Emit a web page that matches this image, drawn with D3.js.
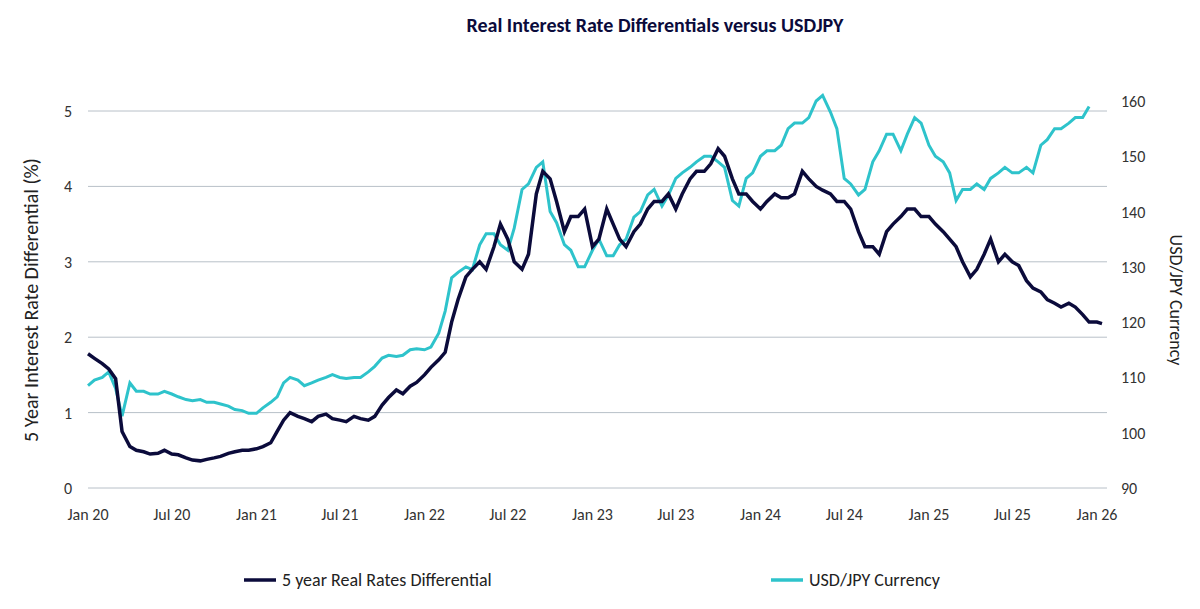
<!DOCTYPE html>
<html><head><meta charset="utf-8">
<script src="https://cdn.jsdelivr.net/npm/d3@7"></script>
<style>body{margin:0;background:#fff;font-family:Calibri,"Open Sans",sans-serif}</style>
</head><body><svg id="c" width="1200" height="609"></svg>
<script>
// semi-monthly readings, "YYYY-MM-DD"
var dates = [];
for (var y = 2020; y <= 2025; y++) for (var m = 1; m <= 12; m++) { dates.push(y + "-" + String(m).padStart(2,"0") + "-01"); dates.push(y + "-" + String(m).padStart(2,"0") + "-15"); }
dates.push("2026-01-01"); dates.push("2026-01-12");

var rateDiff = [
 1.78,1.72, 1.65,1.58, 1.45,0.75, 0.55,0.5, 0.48,0.45, 0.46,0.5, 0.45,0.44, 0.4,0.37, 0.36,0.38, 0.4,0.42, 0.46,0.48, 0.5,0.5,
 0.52,0.55, 0.6,0.75, 0.9,1.0, 0.95,0.92, 0.88,0.95, 0.98,0.92, 0.9,0.88, 0.95,0.92, 0.9,0.95, 1.1,1.2, 1.3,1.25, 1.35,1.4,
 1.5,1.6, 1.7,1.8, 2.2,2.5, 2.8,2.9, 3.0,2.9, 3.2,3.5, 3.3,3.0, 2.9,3.1, 3.9,4.2, 4.1,3.8, 3.4,3.6, 3.6,3.7,
 3.2,3.3, 3.7,3.5, 3.3,3.2, 3.4,3.5, 3.7,3.8, 3.8,3.9, 3.7,3.9, 4.1,4.2, 4.2,4.3, 4.5,4.4, 4.1,3.9, 3.9,3.8,
 3.7,3.8, 3.9,3.85, 3.85,3.9, 4.2,4.1, 4.0,3.95, 3.9,3.8, 3.8,3.7, 3.4,3.2, 3.2,3.1, 3.4,3.5, 3.6,3.7, 3.7,3.6,
 3.6,3.5, 3.4,3.3, 3.2,3.0, 2.8,2.9, 3.1,3.3, 3.0,3.1, 3.0,2.95, 2.75,2.65, 2.6,2.5, 2.45,2.4, 2.45,2.4, 2.3,2.2,
 2.2,2.18
];
var usdjpy = [
 108.5,109.5, 110,111, 108,103, 109,107.5, 107.5,107, 107,107.5, 107,106.5, 106,105.8, 106,105.5, 105.5,105.2, 104.8,104.2, 104,103.5,
 103.5,104.5, 105.5,106.5, 109,110, 109.5,108.5, 109,109.5, 110,110.5, 110,109.8, 110,110, 111,112, 113.5,114, 113.8,114,
 115,115.2, 115,115.5, 118,122, 128,129, 130,129.5, 134,136, 136,134, 133,137, 144,145, 148,149, 140,138, 134,133,
 130,130, 133,135, 132,132, 134,135, 139,140, 143,144, 141,143, 146,147, 148,149, 150,150, 149,148, 142,141,
 146,147, 150,151, 151,152, 155,156, 156,157, 160,161, 158,155, 146,145, 143,144, 149,151, 154,154, 151,154,
 157,156, 152,150, 149,147, 142,144, 144,145, 144,146, 147,148, 147,147, 148,147, 152,153, 155,155, 156,157,
 157,159
];
var xTicks = ["2020-01-01","2020-07-01","2021-01-01","2021-07-01","2022-01-01","2022-07-01","2023-01-01","2023-07-01","2024-01-01","2024-07-01","2025-01-01","2025-07-01","2026-01-01"];
var xLabels = ["Jan 20","Jul 20","Jan 21","Jul 21","Jan 22","Jul 22","Jan 23","Jul 23","Jan 24","Jul 24","Jan 25","Jul 25","Jan 26"];
var leftTicks = [0,1,2,3,4,5];
var rightTicks = [90,100,110,120,130,140,150,160];

var parse = d3.timeParse("%Y-%m-%d");
var svg = d3.select("#c");
var L = 88, R = 1107;
var x = d3.scaleTime().domain([parse("2020-01-01"), parse("2026-01-12")]).range([L, 1102]);
var yl = d3.scaleLinear().domain([0,5]).range([488,111]);
var yr = d3.scaleLinear().domain([90,160]).range([488,101]);
var navy = "#0b0b3b", teal = "#2ec3cb";

svg.append("text").attr("x",655).attr("y",32).attr("text-anchor","middle").attr("font-weight","bold")
  .attr("font-size",20).attr("fill",navy).text("Real Interest Rate Differentials versus USDJPY");

leftTicks.forEach(function(t){
  if (t>0) svg.append("line").attr("x1",L).attr("x2",R).attr("y1",yl(t)).attr("y2",yl(t)).attr("stroke","#b8c0c8").attr("stroke-width",1);
  svg.append("text").attr("x",72).attr("y",yl(t)+6).attr("text-anchor","end").attr("font-size",16).attr("fill","#333").text(t);
});
svg.append("line").attr("x1",L).attr("x2",R).attr("y1",488).attr("y2",488).attr("stroke","#b8c0c8");
rightTicks.forEach(function(t){
  svg.append("text").attr("x",1121).attr("y",yr(t)+6).attr("font-size",16).attr("fill","#333").text(t);
});
xTicks.forEach(function(d,i){
  svg.append("text").attr("x",x(parse(d))).attr("y",520).attr("text-anchor","middle").attr("font-size",16).attr("fill","#333").text(xLabels[i]);
});
svg.append("text").attr("transform","translate(38,300) rotate(-90)").attr("text-anchor","middle").attr("font-size",20).attr("fill","#222").text("5 Year Interest Rate Differential (%)");
svg.append("text").attr("transform","translate(1170,300) rotate(90)").attr("text-anchor","middle").attr("font-size",18).attr("fill","#222").text("USD/JPY Currency");

var lineL = d3.line().x(function(d,i){return x(parse(dates[i]));}).y(function(d){return yl(d);});
var lineR = d3.line().x(function(d,i){return x(parse(dates[i]));}).y(function(d){return yr(d);});
svg.append("path").attr("d",lineR(usdjpy)).attr("fill","none").attr("stroke",teal).attr("stroke-width",3);
svg.append("path").attr("d",lineL(rateDiff)).attr("fill","none").attr("stroke",navy).attr("stroke-width",3.5);

svg.append("line").attr("x1",244).attr("x2",276).attr("y1",580).attr("y2",580).attr("stroke",navy).attr("stroke-width",3.5);
svg.append("text").attr("x",282).attr("y",586).attr("font-size",18).attr("fill","#222").text("5 year Real Rates Differential");
svg.append("line").attr("x1",771).attr("x2",803).attr("y1",580).attr("y2",580).attr("stroke",teal).attr("stroke-width",3.5);
svg.append("text").attr("x",809).attr("y",586).attr("font-size",18).attr("fill","#222").text("USD/JPY Currency");
</script></body></html>
